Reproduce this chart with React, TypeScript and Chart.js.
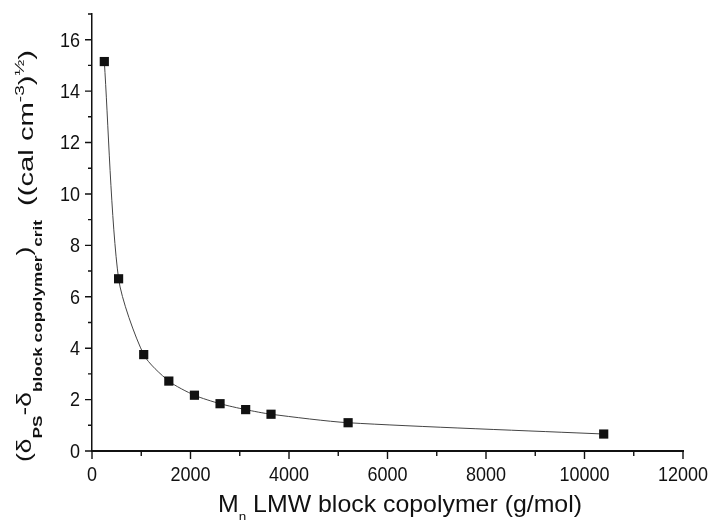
import React, { useEffect, useRef } from "react";
import { Chart, registerables } from "chart.js";

Chart.register(...registerables);

// Data
const molecularWeights = [250, 540, 1050, 1560, 2080, 2600, 3120, 3635, 5200, 10390];
const deltaCrit = [15.15, 6.7, 3.75, 2.72, 2.17, 1.84, 1.61, 1.43, 1.1, 0.66];

// Tick labels
const xTickLabels = [0, 2000, 4000, 6000, 8000, 10000, 12000];
const yTickLabels = [0, 2, 4, 6, 8, 10, 12, 14, 16];

const FONT = "'Liberation Sans', Arial, sans-serif";

type Seg = { t: string; kind: "main" | "sub" | "sup" };

const yTitlePart1: Seg[] = [
  { t: "(δ", kind: "main" },
  { t: "PS", kind: "sub" },
  { t: "-δ", kind: "main" },
  { t: "block copolymer", kind: "sub" },
  { t: ")", kind: "main" },
  { t: "crit", kind: "sub" },
];
const yTitlePart2: Seg[] = [
  { t: "((cal cm", kind: "main" },
  { t: "-3", kind: "sup" },
  { t: ")", kind: "main" },
  { t: "½", kind: "sup" },
  { t: ")", kind: "main" },
];

function segFont(kind: string) {
  if (kind === "sub") return `bold 13px ${FONT}`;
  if (kind === "sup") return `13px ${FONT}`;
  return `20px ${FONT}`;
}
function segOffset(kind: string) {
  if (kind === "sub") return 11;
  if (kind === "sup") return -9;
  return 0;
}

function drawStretched(ctx: CanvasRenderingContext2D, segs: Seg[], baseX: number, startY: number, endY: number) {
  let natural = 0;
  for (const s of segs) {
    ctx.font = segFont(s.kind);
    natural += ctx.measureText(s.t).width;
  }
  const scale = (startY - endY) / natural;
  ctx.save();
  ctx.translate(baseX, startY);
  ctx.rotate(-Math.PI / 2);
  ctx.scale(scale, 1);
  let pos = 0;
  for (const s of segs) {
    ctx.font = segFont(s.kind);
    ctx.fillText(s.t, pos, segOffset(s.kind));
    pos += ctx.measureText(s.t).width;
  }
  ctx.restore();
}

const TICK_SIZE = 18;
const TICK_VSTRETCH = 1.17;

const decorPlugin = {
  id: "decor",
  afterDraw(chart: any) {
    const { ctx, chartArea } = chart;
    const xs = chart.scales.x;
    const ys = chart.scales.y;
    ctx.save();
    ctx.strokeStyle = "#111";
    ctx.lineWidth = 1.4;
    ctx.beginPath();
    for (const tk of xs.ticks) {
      const px = xs.getPixelForValue(tk.value);
      const len = xTickLabels.includes(tk.value) ? 8 : 5;
      ctx.moveTo(px, chartArea.bottom);
      ctx.lineTo(px, chartArea.bottom + len);
    }
    for (const tk of ys.ticks) {
      const py = ys.getPixelForValue(tk.value);
      const len = yTickLabels.includes(tk.value) ? 7 : 4;
      ctx.moveTo(chartArea.left, py);
      ctx.lineTo(chartArea.left - len, py);
    }
    ctx.stroke();

    ctx.fillStyle = "#111";
    ctx.font = `${TICK_SIZE}px ${FONT}`;
    // X tick labels
    ctx.textAlign = "center";
    ctx.textBaseline = "alphabetic";
    for (const v of xTickLabels) {
      const px = xs.getPixelForValue(v);
      ctx.save();
      ctx.translate(px, 481);
      ctx.scale(1, TICK_VSTRETCH);
      ctx.fillText(String(v), 0, 0);
      ctx.restore();
    }
    // Y tick labels
    ctx.textAlign = "right";
    ctx.textBaseline = "middle";
    for (const v of yTickLabels) {
      const py = ys.getPixelForValue(v);
      ctx.save();
      ctx.translate(chartArea.left - 12, py + 1);
      ctx.scale(1, TICK_VSTRETCH);
      ctx.fillText(String(v), 0, 0);
      ctx.restore();
    }

    ctx.textBaseline = "alphabetic";
    ctx.textAlign = "left";
    // Y axis title (two parts, stretched along reading direction like the original)
    drawStretched(ctx, yTitlePart1, 31, 462, 220);
    drawStretched(ctx, yTitlePart2, 33, 206, 50);

    // X axis title
    const mainA = "M";
    const subN = "n";
    const mainB = " LMW block copolymer (g/mol)";
    ctx.font = `24px ${FONT}`;
    const wA = ctx.measureText(mainA).width;
    const wB = ctx.measureText(mainB).width;
    ctx.font = `13px ${FONT}`;
    const wN = ctx.measureText(subN).width;
    const left = 218;
    const right = 582;
    const sx = (right - left) / (wA + wN + wB);
    ctx.save();
    ctx.translate(left, 512);
    ctx.scale(sx, 1);
    ctx.font = `24px ${FONT}`;
    ctx.fillText(mainA, 0, 0);
    ctx.font = `13px ${FONT}`;
    ctx.fillText(subN, wA, 9);
    ctx.font = `24px ${FONT}`;
    ctx.fillText(mainB, wA + wN, 0);
    ctx.restore();
    ctx.restore();
  },
};

export default function App() {
  const canvasRef = useRef<HTMLCanvasElement | null>(null);

  useEffect(() => {
    const canvas = canvasRef.current;
    if (!canvas) return;
    const points = molecularWeights.map((x, i) => ({ x, y: deltaCrit[i] }));
    const chart = new Chart(canvas, {
      type: "line",
      data: {
        datasets: [
          {
            data: points,
            borderColor: "#444",
            borderWidth: 1,
            backgroundColor: "#111",
            pointBackgroundColor: "#111",
            pointBorderColor: "#111",
            pointStyle: "rect",
            pointRadius: 6.5,
            pointBorderWidth: 0,
            tension: 0.25,
            fill: false,
          },
        ],
      },
      options: {
        animation: false,
        responsive: false,
        maintainAspectRatio: false,
        layout: { padding: { left: 0, right: 29, top: 14, bottom: 0 } },
        plugins: { legend: { display: false }, tooltip: { enabled: false } },
        scales: {
          x: {
            type: "linear",
            min: 0,
            max: 12000,
            afterFit: (s: any) => {
              s.height = 69;
              s.paddingLeft = 0;
              s.paddingRight = 0;
            },
            border: { display: true, color: "#111", width: 2 },
            grid: { display: true, drawOnChartArea: false, drawTicks: false },
            ticks: {
              stepSize: 1000,
              autoSkip: false,
              maxRotation: 0,
              padding: 0,
              font: { family: FONT, size: 1 },
              callback: () => "",
            },
          },
          y: {
            type: "linear",
            min: 0,
            max: 17,
            afterFit: (s: any) => {
              s.width = 92;
              s.paddingTop = 0;
              s.paddingBottom = 0;
            },
            border: { display: true, color: "#111", width: 1.5 },
            grid: { display: true, drawOnChartArea: false, drawTicks: false },
            ticks: {
              stepSize: 1,
              autoSkip: false,
              padding: 0,
              font: { family: FONT, size: 1 },
              callback: () => "",
            },
          },
        },
      },
      plugins: [decorPlugin],
    });
    return () => chart.destroy();
  }, []);

  return (
    <div style={{ position: "absolute", left: 0, top: 0, width: 712, height: 520, background: "#fff" }}>
      <canvas ref={canvasRef} width={712} height={520} />
    </div>
  );
}
